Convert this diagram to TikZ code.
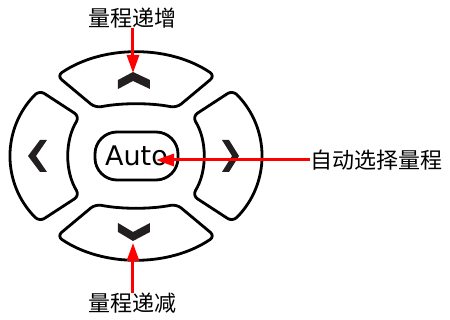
\documentclass[tikz,border=0pt]{standalone}
\usepackage{fontspec}
\usepackage{tikz}
\usetikzlibrary{arrows.meta}
\newfontfamily\cjk{Noto Sans CJK SC}
\newfontfamily\padfont{DejaVu Sans}
\definecolor{padink}{HTML}{231F20}

\begin{document}
\begin{tikzpicture}[x=1pt, y=1pt,
	pad/.style={draw=black, line width=2.8pt, rounded corners=6pt},
	chevron/.style={fill=padink},
	label/.style={font=\cjk\fontsize{22}{24}\selectfont, inner sep=0pt},
	pointer/.style={-{Triangle[length=18pt,width=12pt]}, draw=red, line width=3pt}]
	\useasboundingbox (-136,-164) rectangle (314,156);

	% keys round the centre
	\draw [pad] (50.8:125 and 103.5) arc [start angle=50.8, end angle=129.2, x radius=125, y radius=103.5] -- (112.1:108 and 52) arc [start angle=112.1, end angle=67.9, x radius=108, y radius=52] -- cycle;
	\draw [pad] (230.8:125 and 103.5) arc [start angle=230.8, end angle=309.2, x radius=125, y radius=103.5] -- (292.1:108 and 52) arc [start angle=292.1, end angle=247.9, x radius=108, y radius=52] -- cycle;
	\draw [pad] (140.6:125 and 103.5) arc [start angle=140.6, end angle=219.4, x radius=125, y radius=103.5] -- (213.3:67.5 and 72) arc [start angle=213.3, end angle=146.7, x radius=67.5, y radius=72] -- cycle;
	\draw [pad] (-39.4:125 and 103.5) arc [start angle=-39.4, end angle=39.4, x radius=125, y radius=103.5] -- (33.3:67.5 and 72) arc [start angle=33.3, end angle=-33.3, x radius=67.5, y radius=72] -- cycle;

	% chevrons
	\fill [chevron] (-3,84) -- (14,76) -- (14,67) -- (-3,75) -- (-18,67) -- (-18,76) -- cycle;
	\fill [chevron] (-3,-85) -- (14,-76) -- (14,-67) -- (-3,-76) -- (-18,-67) -- (-18,-76) -- cycle;
	\fill [chevron] (-108,0) -- (-96,16) -- (-89,16) -- (-100,0) -- (-89,-16) -- (-96,-16) -- cycle;
	\fill [chevron] (103,0) -- (93,16) -- (86,16) -- (96,0) -- (86,-16) -- (93,-16) -- cycle;

	\node at (0.5,0) [draw, line width=2.8pt, rounded corners=22pt, minimum width=83pt, minimum height=48pt, font=\padfont\fontsize{27}{30}\selectfont, inner sep=0pt] (auto) {Auto};

	\node at (-3,138) [label] (up) {量程递增};
	\node at (-3,-147) [label] (down) {量程递减};
	\node at (174,-4) [label, anchor=west] (select) {自动选择量程};
	\coordinate (uptip) at (-3,83);
	\coordinate (downtip) at (-3,-87);
	\coordinate (autotip) at (20,-4);

	\draw [pointer] (up) -- (uptip);
	\draw [pointer] (down) -- (downtip);
	\draw [pointer] (select) -- (autotip);
\end{tikzpicture}
\end{document}
